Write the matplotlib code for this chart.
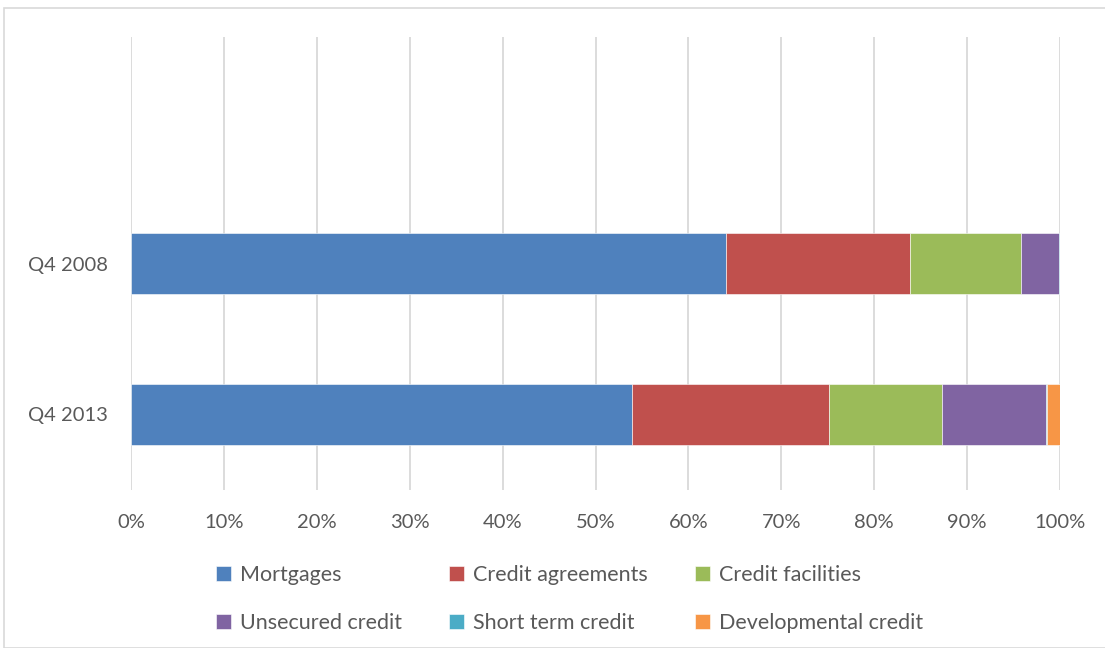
import matplotlib.pyplot as plt
from matplotlib.patches import Rectangle
from matplotlib.ticker import PercentFormatter

periods = ["Q4 2013", "Q4 2008"]
mortgages = [53.9, 64.0]
credit_agreements = [21.2, 19.8]
credit_facilities = [12.2, 12.0]
unsecured_credit = [11.2, 4.1]
short_term_credit = [0.1, 0.1]
developmental_credit = [1.4, 0.0]

series = [
    ("Mortgages", mortgages, "#4F81BD"),
    ("Credit agreements", credit_agreements, "#C0504D"),
    ("Credit facilities", credit_facilities, "#9BBB59"),
    ("Unsecured credit", unsecured_credit, "#8064A2"),
    ("Short term credit", short_term_credit, "#4BACC6"),
    ("Developmental credit", developmental_credit, "#F79646"),
]

plt.rcParams['font.family'] = ['Lato', 'DejaVu Sans']
text_col = "#595959"
grid_col = "#D9D9D9"

fig = plt.figure(figsize=(11.05, 6.48), dpi=100)
ax = fig.add_axes([131 / 1105, 1 - 490 / 648, 929 / 1105, 453 / 648])

# light frame around the chart area
fig.add_artist(Rectangle((4 / 1105, 0), 1.1, 1 - 8 / 648, transform=fig.transFigure,
                         fill=False, edgecolor=grid_col, linewidth=1.2))

ypos = list(range(len(periods)))
left = [0.0] * len(periods)
handles = []
for name, vals, col in series:
    b = ax.barh(ypos, vals, left=left, height=0.4, color=col, label=name,
                edgecolor="white", linewidth=0.4, zorder=3)
    handles.append(b)
    left = [l + v for l, v in zip(left, vals)]

ax.set_xlim(0, 100)
ax.set_ylim(-0.5, 2.5)
ax.set_xticks(range(0, 101, 10))
ax.xaxis.set_major_formatter(PercentFormatter(decimals=0))
ax.set_yticks(ypos)
ax.set_yticklabels(periods)
ax.tick_params(axis="both", length=0, labelsize=14.5, labelcolor=text_col)
ax.tick_params(axis="x", pad=17)
ax.tick_params(axis="y", pad=16.5)
ax.grid(axis="x", color=grid_col, linewidth=1.3, zorder=0)
for s in ax.spines.values():
    s.set_visible(False)

order = [0, 3, 1, 4, 2, 5]
leg = fig.legend([handles[i] for i in order], [series[i][0] for i in order],
                 ncol=3, loc="upper left", bbox_to_anchor=(216 / 1105, 1 - 565 / 648),
                 frameon=False, fontsize=15.5, labelcolor=text_col,
                 handlelength=0.7, handleheight=0.7, handletextpad=0.4,
                 columnspacing=2.2, labelspacing=1.3, borderpad=0, borderaxespad=0)

fig.savefig("out.png", dpi=100)
